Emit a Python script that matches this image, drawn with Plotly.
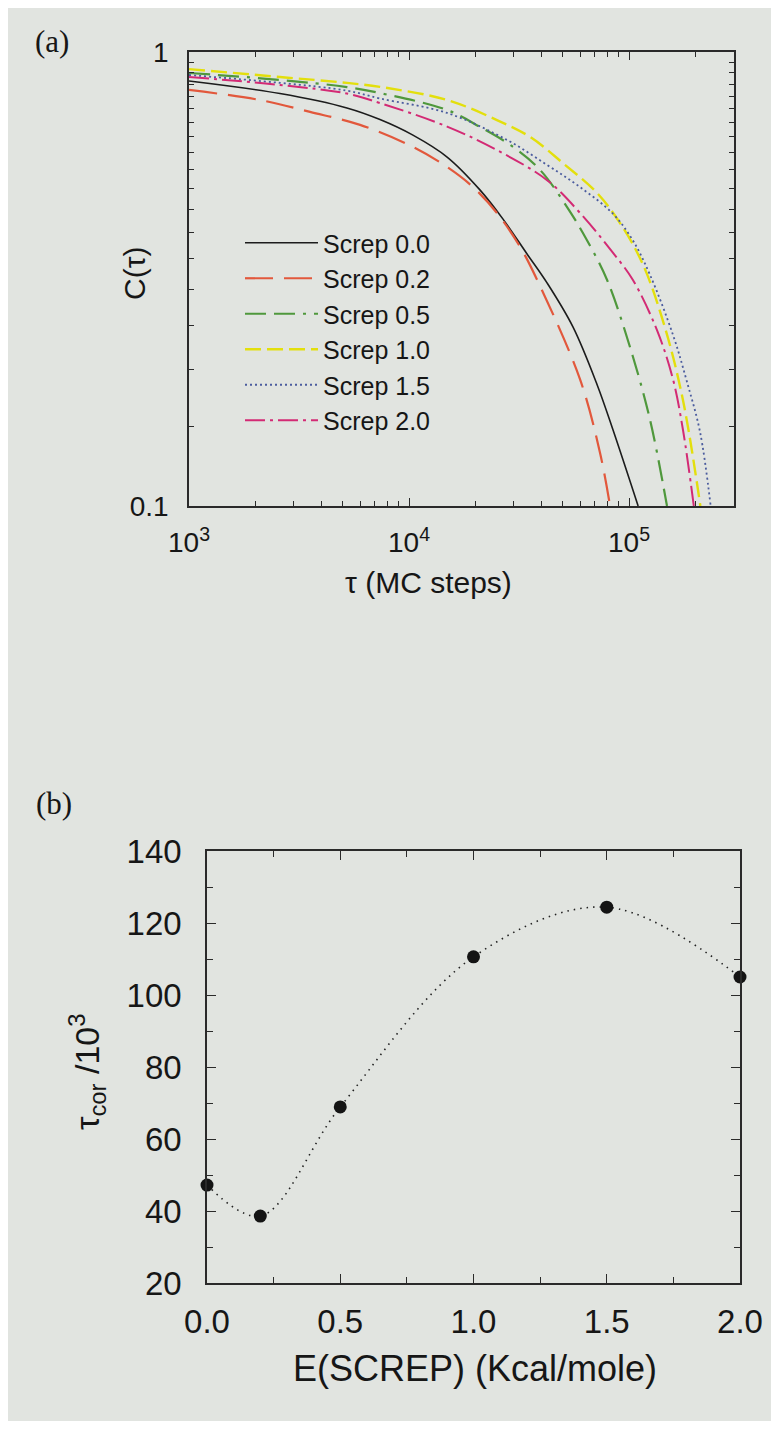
import math
import plotly.graph_objects as go

OFF = 8  # the page body offsets the figure by 8 px
W, H = 779 - OFF, 1429 - 2 * OFF  # figure fills the window without overflowing it

# ---------------- Panel (a) data: C(tau) vs tau (MC steps) ----------------
series_names = ["Screp 0.0", "Screp 0.2", "Screp 0.5", "Screp 1.0", "Screp 1.5", "Screp 2.0"]

tau_s00 = [1000, 2590, 5220, 7380, 10420, 14900, 21000, 26700, 34400, 42400, 55600, 71600, 84600, 110000]
c_s00 = [0.863, 0.810, 0.753, 0.710, 0.656, 0.587, 0.497, 0.429, 0.359, 0.310, 0.248, 0.185, 0.147, 0.100]

tau_s02 = [1000, 2100, 3550, 5990, 10420, 14900, 19550, 25100, 32000, 38200, 59900, 73800, 82000]
c_s02 = [0.825, 0.784, 0.738, 0.691, 0.618, 0.558, 0.504, 0.442, 0.372, 0.315, 0.190, 0.131, 0.100]

tau_s05 = [1000, 2590, 5220, 7380, 14900, 21000, 29700, 39400, 52200, 64400, 79400, 101000, 124500, 148800]
c_s05 = [0.899, 0.868, 0.837, 0.812, 0.745, 0.684, 0.618, 0.550, 0.456, 0.385, 0.315, 0.224, 0.155, 0.100]

tau_s10 = [1000, 2590, 5220, 7380, 14900, 25100, 35500, 50100, 71600, 91000, 115800, 145700, 175900, 211000]
c_s10 = [0.917, 0.881, 0.855, 0.838, 0.784, 0.708, 0.650, 0.569, 0.489, 0.420, 0.340, 0.247, 0.171, 0.100]

tau_s15 = [1000, 2590, 5220, 7380, 14900, 27900, 42400, 59900, 84600, 104000, 124500, 158500, 183500, 210300, 235000]
c_s15 = [0.890, 0.855, 0.822, 0.790, 0.734, 0.640, 0.564, 0.504, 0.440, 0.385, 0.323, 0.238, 0.1875, 0.1455, 0.100]

tau_s20 = [1000, 2590, 5220, 7380, 14900, 25100, 42400, 59900, 84600, 104000, 134000, 158500, 175900, 197000]
c_s20 = [0.881, 0.846, 0.810, 0.772, 0.685, 0.608, 0.522, 0.442, 0.361, 0.315, 0.244, 0.190, 0.147, 0.100]

tau_series = [tau_s00, tau_s02, tau_s05, tau_s10, tau_s15, tau_s20]
c_series = [c_s00, c_s02, c_s05, c_s10, c_s15, c_s20]

a_x_ticks = [1e3, 1e4, 1e5]
a_x_ticktext = ["10<sup>3</sup>", "10<sup>4</sup>", "10<sup>5</sup>"]
a_x_minor = [2e3, 3e3, 4e3, 5e3, 6e3, 7e3, 8e3, 9e3,
             2e4, 3e4, 4e4, 5e4, 6e4, 7e4, 8e4, 9e4, 2e5, 3e5]
a_y_ticks = [0.1, 1]
a_y_ticktext = ["0.1", "1"]
a_y_minor = [0.15, 0.2, 0.25, 0.3, 0.35, 0.4, 0.45, 0.5, 0.55, 0.6,
             0.65, 0.7, 0.75, 0.8, 0.85, 0.9, 0.95]

# ---------------- Panel (b) data: tau_cor vs E(SCREP) ----------------
e_screp = [0.0, 0.2, 0.5, 1.0, 1.5, 2.0]
tau_cor = [47.2, 38.6, 68.9, 110.6, 124.4, 105.0]

# ---------------- styles ----------------
colors = ["#1c1c1c", "#e2583c", "#4f983c", "#e3df0c", "#4b5c9e", "#d32a74"]
dashes = ["solid", "28px,11px", "21px,8px,21px,8px,3px,8px", "16px,6px",
          "2px,3px", "20px,5px,3px,5px"]
widths = [1.6, 2.2, 2.2, 2.4, 1.8, 2.0]

AX = "#2a2a2a"
TXT = "#161616"
BG = "#e1e4e0"
SANS = "Liberation Sans, Arial, sans-serif"
SERIF = "Liberation Serif, Times New Roman, serif"


def px(x):
    return (x - OFF) / W


def py(y):
    return 1 - (y - OFF) / H


fig = go.Figure()

for name, tx, cy, col, dsh, wd in zip(series_names, tau_series, c_series, colors, dashes, widths):
    fig.add_trace(go.Scatter(
        x=tx, y=cy, mode="lines", name=name,
        line=dict(color=col, dash=dsh, width=wd, shape="spline", smoothing=1.0),
        xaxis="x", yaxis="y", showlegend=True,
    ))

fig.add_trace(go.Scatter(
    x=e_screp, y=tau_cor, mode="lines+markers", showlegend=False,
    line=dict(color="#222222", dash="1.5px,5px", width=1.6, shape="spline", smoothing=1.0),
    marker=dict(color="#141414", size=13),
    cliponaxis=False,
    xaxis="x2", yaxis="y2",
))

axis_common = dict(showline=True, linecolor=AX, linewidth=1.5, mirror="allticks",
                   ticks="inside", tickcolor=AX, tickwidth=1.3, showgrid=False,
                   zeroline=False, automargin=False)

fig.update_layout(
    width=W, height=H, autosize=False,
    margin=dict(l=0, r=0, t=0, b=0, pad=0, autoexpand=False),
    paper_bgcolor=BG, plot_bgcolor=BG,
    showlegend=True,
    legend=dict(x=px(240), y=py(220), xanchor="left", yanchor="top",
                bgcolor="rgba(0,0,0,0)", borderwidth=0,
                font=dict(family=SANS, size=25, color=TXT),
                itemwidth=73, tracegroupgap=0),
    xaxis=dict(type="log", range=[3, math.log10(3e5)], domain=[px(189), px(734)],
               anchor="y", tickmode="array", tickvals=a_x_ticks, ticktext=a_x_ticktext,
               ticklen=8, ticklabelstandoff=11,
               tickfont=dict(family=SANS, size=28, color=TXT),
               minor=dict(tickmode="array", tickvals=a_x_minor, ticks="inside",
                          ticklen=5, tickcolor=AX, tickwidth=1.2, showgrid=False),
               **axis_common),
    yaxis=dict(type="log", range=[-1, 0], domain=[py(506), py(52)],
               anchor="x", tickmode="array", tickvals=a_y_ticks, ticktext=a_y_ticktext,
               ticklen=8, ticklabelstandoff=13,
               tickfont=dict(family=SANS, size=28, color=TXT),
               minor=dict(tickmode="array", tickvals=a_y_minor, ticks="inside",
                          ticklen=5, tickcolor=AX, tickwidth=1.2, showgrid=False),
               **axis_common),
    xaxis2=dict(range=[0, 2], domain=[px(207), px(740)], anchor="y2",
                tickmode="linear", tick0=0, dtick=0.5, tickformat=".1f",
                ticklen=9, ticklabelstandoff=9,
                tickfont=dict(family=SANS, size=33, color=TXT),
                minor=dict(dtick=0.25, ticks="inside", ticklen=6, tickcolor=AX,
                           tickwidth=1.2, showgrid=False),
                **axis_common),
    yaxis2=dict(range=[20, 140], domain=[py(1283), py(851)], anchor="x2",
                tickmode="linear", tick0=20, dtick=20,
                ticklen=9, ticklabelstandoff=17,
                tickfont=dict(family=SANS, size=33, color=TXT),
                minor=dict(dtick=10, ticks="inside", ticklen=6, tickcolor=AX,
                           tickwidth=1.2, showgrid=False),
                **axis_common),
)

annotations = [
    dict(text="(a)", x=px(52), y=py(42), font=dict(family=SERIF, size=31, color=TXT)),
    dict(text="(b)", x=px(54), y=py(803), font=dict(family=SERIF, size=31, color=TXT)),
    dict(text="τ (MC steps)", x=px(429), y=py(582), font=dict(family=SANS, size=30, color=TXT)),
    dict(text="C(τ)", x=px(134), y=py(273), textangle=-90,
         font=dict(family=SANS, size=30, color=TXT)),
    dict(text="E(SCREP) (Kcal/mole)", x=px(475), y=py(1368),
         font=dict(family=SANS, size=36, color=TXT)),
    dict(text="τ<sub>cor</sub> /10<sup>3</sup>", x=px(87), y=py(1072), textangle=-90,
         font=dict(family=SANS, size=34, color=TXT)),
]
for a in annotations:
    a.update(xref="paper", yref="paper", xanchor="center", yanchor="middle", showarrow=False)
fig.update_layout(annotations=annotations)

fig.write_html("out.html")
